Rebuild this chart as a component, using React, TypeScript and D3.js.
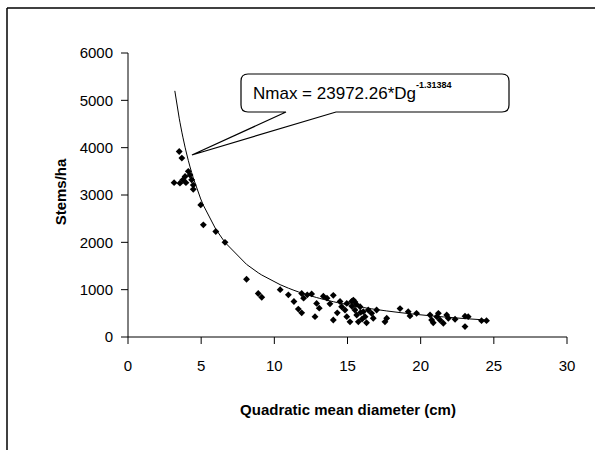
import React from "react";
import * as d3 from "d3";

// quadratic mean diameter (cm) and stems per hectare
const diameters = [
  3.15, 3.5, 3.68, 3.55, 3.75, 3.9, 3.96, 4.12, 4.24, 4.35, 4.46, 4.46, 4.97, 5.15, 6.0, 6.63,
  8.1, 8.9, 9.14, 10.4, 10.96, 11.34, 11.64, 11.87, 11.87, 12.0, 12.25, 12.55, 12.78, 12.89,
  13.07, 13.35, 13.6, 13.8, 14.03, 14.03, 14.3, 14.49, 14.6, 14.83, 14.95, 14.95, 15.17, 15.28,
  15.3, 15.4, 15.51, 15.51, 15.6, 15.63, 15.74, 15.86, 15.9, 16.0, 16.08, 16.2, 16.3, 16.42,
  16.65, 16.76, 16.99, 17.56, 17.68, 18.59, 19.15, 19.27, 19.72, 20.64, 20.75, 20.86, 21.1,
  21.21, 21.32, 21.55, 21.78, 21.89, 22.35, 23.03, 23.03, 23.25, 24.16, 24.5,
];
const stems = [
  3260, 3920, 3780, 3250, 3320, 3390, 3260, 3500, 3420, 3320, 3210, 3120, 2790, 2370, 2230, 2000,
  1220, 920, 840, 1000, 890, 750, 590, 510, 920, 820, 890, 910, 430, 710,
  610, 860, 820, 700, 880, 360, 510, 750, 640, 570, 710, 430, 320, 750,
  650, 780, 740, 570, 690, 465, 320, 640, 520, 380, 535, 430, 300, 570,
  500, 395, 570, 320, 395, 600, 535, 445, 500, 465, 360, 300, 430,
  500, 360, 290, 465, 395, 375, 440, 220, 430, 345, 345,
];
const xTicks = [0, 5, 10, 15, 20, 25, 30];
const yTicks = [0, 1000, 2000, 3000, 4000, 5000, 6000];
// power trendline shown in the callout
const trendA = 23972.26;
const trendB = -1.31384;

const W = 595;
const H = 450;
const font = "'Liberation Sans', Arial, sans-serif";

export default function App() {
  const x = d3.scaleLinear().domain([0, 30]).range([128, 567]);
  const y = d3.scaleLinear().domain([0, 6000]).range([337, 53]);

  const points = diameters.map((d, i) => ({ d, v: stems[i] }));
  const trendX = Array.from(new Set(diameters)).sort((a, b) => a - b);
  trendX[0] = 3.2;
  const trend = trendX.map((d) => [d, trendA * Math.pow(d, trendB)] as [number, number]);
  const line = d3
    .line<[number, number]>()
    .x((p) => x(p[0]))
    .y((p) => y(p[1]));
  const diamond = d3.symbol().type(d3.symbolDiamond2).size(30)();

  // callout box with pointer to the curve
  const bx0 = 241, bx1 = 509, by0 = 74, by1 = 112, r = 7;
  const tipX = x(4.37), tipY = y(3845);
  const callout = `M${bx0 + r},${by0} L${bx1 - r},${by0} Q${bx1},${by0} ${bx1},${by0 + r}
    L${bx1},${by1 - r} Q${bx1},${by1} ${bx1 - r},${by1} L336,${by1} L${tipX},${tipY} L286,${by1}
    L${bx0 + r},${by1} Q${bx0},${by1} ${bx0},${by1 - r} L${bx0},${by0 + r} Q${bx0},${by0} ${bx0 + r},${by0} Z`;

  return (
    <svg width={W} height={H} style={{ position: "absolute", left: 0, top: 0, background: "#fff" }} fontFamily={font}>
      <rect width={W} height={H} fill="#fff" />
      <line x1={7} y1={8} x2={W} y2={8} stroke="#000" strokeWidth={1.5} />
      <line x1={7} y1={8} x2={7} y2={H} stroke="#000" strokeWidth={1.5} />

      {/* axes */}
      <line x1={x(0)} y1={y(0)} x2={x(30)} y2={y(0)} stroke="#000" />
      <line x1={x(0)} y1={y(0)} x2={x(0)} y2={y(6000)} stroke="#000" />
      {yTicks.map((t) => (
        <g key={`y${t}`}>
          <line x1={x(0) - 7} x2={x(0)} y1={y(t)} y2={y(t)} stroke="#000" />
          <text x={x(0) - 15} y={y(t)} dy="0.35em" textAnchor="end" fontSize={15}>
            {t}
          </text>
        </g>
      ))}
      {xTicks.map((t) => (
        <g key={`x${t}`}>
          <line x1={x(t)} x2={x(t)} y1={y(0)} y2={y(0) + 7} stroke="#000" />
          <text x={x(t)} y={y(0) + 29} dy="0.35em" textAnchor="middle" fontSize={15}>
            {t}
          </text>
        </g>
      ))}
      <text x={348} y={410} dy="0.35em" textAnchor="middle" fontSize={15} fontWeight="bold">
        Quadratic mean diameter (cm)
      </text>
      <text
        transform={`translate(61,${y(3000) - 3}) rotate(-90)`}
        dy="0.35em"
        textAnchor="middle"
        fontSize={15}
        fontWeight="bold"
      >
        Stems/ha
      </text>

      {/* trendline */}
      <path d={line(trend) ?? ""} fill="none" stroke="#000" strokeWidth={1} />

      {/* points */}
      {points.map((p, i) => (
        <path key={i} d={diamond ?? ""} transform={`translate(${x(p.d)},${y(p.v)})`} fill="#000" />
      ))}

      {/* callout */}
      <path d={callout} fill="#fff" stroke="#000" strokeWidth={1.2} />
      <text x={253} y={99} fontSize={17}>
        Nmax = 23972.26*Dg
        <tspan dy={-11} fontSize={9} fontWeight="bold">
          -1.31384
        </tspan>
      </text>
    </svg>
  );
}
